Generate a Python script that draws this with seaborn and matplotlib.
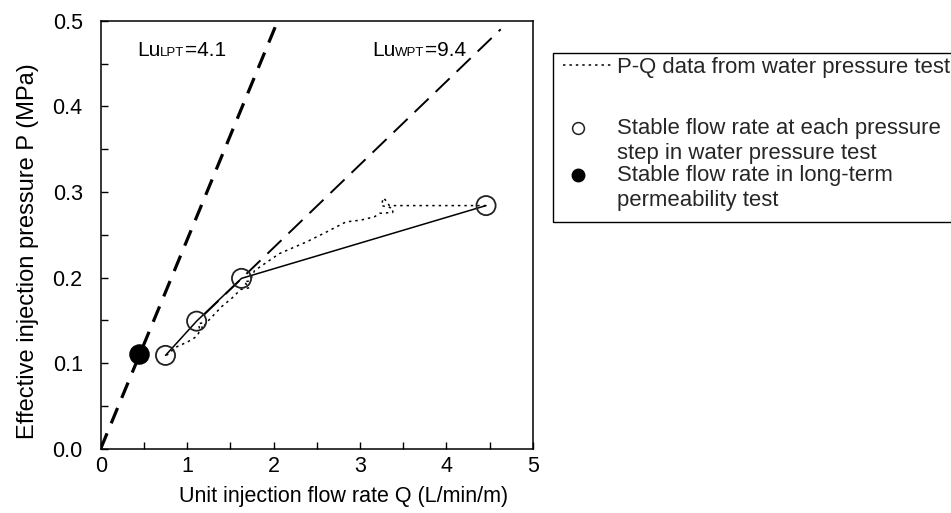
import matplotlib
matplotlib.use("Agg")
import matplotlib.pyplot as plt
import numpy as np
import pandas as pd
import seaborn as sns
from matplotlib.lines import Line2D
from matplotlib.patches import Rectangle
from matplotlib.legend_handler import HandlerLine2D
from matplotlib.offsetbox import TextArea, HPacker, AnnotationBbox
from matplotlib.ticker import MultipleLocator

# ---------------- data ----------------
# P-Q trace from water pressure test (dotted)
pq_q = [0.76, 0.88, 1.01, 1.11, 1.15, 1.13, 1.18, 1.17, 1.25, 1.40, 1.52, 1.62,
        1.72, 1.66, 1.73, 1.78, 2.07, 2.38, 2.61, 2.84, 3.01, 3.17, 3.23, 3.38,
        3.38, 3.25, 3.27, 3.31, 3.34, 4.46]
pq_p = [0.109, 0.119, 0.125, 0.131, 0.138, 0.146, 0.147, 0.140, 0.150, 0.166, 0.176, 0.186,
        0.188, 0.195, 0.196, 0.208, 0.228, 0.2415, 0.253, 0.265, 0.267, 0.271, 0.275, 0.276,
        0.281, 0.284, 0.293, 0.289, 0.284, 0.284]
# stable flow rate at each pressure step (open circles)
step_q = [0.75, 1.11, 1.63, 4.46]
step_p = [0.109, 0.149, 0.199, 0.284]
# long-term permeability test (filled circle)
lpt_pt_q = [0.44]
lpt_pt_p = [0.111]
# Lugeon lines
lpt_line_q = [0.0, 2.05]
lpt_line_p = [0.0, 0.5]
wpt_line_q = [1.20, 4.63]
wpt_line_p = [0.157, 0.490]

xticks = [0, 1, 2, 3, 4, 5]
yticks = [0.0, 0.1, 0.2, 0.3, 0.4, 0.5]
ytick_labels = ["0.0", "0.1", "0.2", "0.3", "0.4", "0.5"]

# ---------------- style ----------------
sns.set_theme(style="ticks")
plt.rcParams["font.family"] = ["Liberation Sans", "DejaVu Sans"]
FS = 15.5
LFS = 15.9

W, H = 951, 513
fig = plt.figure(figsize=(W / 100, H / 100), dpi=100)
ax = fig.add_axes([100.7 / W, 1 - 448.7 / H, (532.7 - 100.7) / W, (448.7 - 20.7) / H])

# Lugeon lines
sns.lineplot(x=lpt_line_q, y=lpt_line_p, ax=ax, color="black", lw=2.3,
             estimator=None, sort=False)
ax.lines[-1].set_dashes([5.2, 3.4])
sns.lineplot(x=wpt_line_q, y=wpt_line_p, ax=ax, color="black", lw=1.4,
             estimator=None, sort=False)
ax.lines[-1].set_dashes([10, 5])

# P-Q trace
sns.lineplot(x=pq_q, y=pq_p, ax=ax, color="black", lw=1.1,
             estimator=None, sort=False)
ax.lines[-1].set_dashes([1.6, 2.6])

# solid line connecting stable steps
sns.lineplot(x=step_q, y=step_p, ax=ax, color="black", lw=1.1,
             estimator=None, sort=False)

# circles
sns.scatterplot(x=step_q, y=step_p, ax=ax, s=190, facecolors="none",
                edgecolor="#222222", linewidth=1.3, zorder=5)
sns.scatterplot(x=lpt_pt_q, y=lpt_pt_p, ax=ax, s=190, color="black",
                edgecolor="black", linewidth=1, zorder=5)

ax.set_xlim(0, 5)
ax.set_ylim(0, 0.5)
ax.set_xticks(xticks)
ax.set_yticks(yticks)
ax.set_yticklabels(ytick_labels)
ax.xaxis.set_minor_locator(MultipleLocator(0.5))
ax.yaxis.set_minor_locator(MultipleLocator(0.05))
ax.tick_params(which="both", direction="in", length=5, width=1, color="black",
               top=False, right=False)
ax.tick_params(axis="y", which="major", pad=13, labelsize=FS, colors="black")
ax.tick_params(axis="x", which="major", pad=5, labelsize=FS, colors="black")
for sp in ax.spines.values():
    sp.set_visible(True)
    sp.set_color("black")
    sp.set_linewidth(1.1)

ax.set_xlabel("Unit injection flow rate Q (L/min/m)", fontsize=FS, color="black")
ax.xaxis.set_label_coords(0.563, -0.087)
ax.set_ylabel("Effective injection pressure P (MPa)", fontsize=17, color="black")
ax.yaxis.set_label_coords(-0.143, 0.461)


def lu_label(x, y, sub, val):
    parts = [TextArea("Lu", textprops=dict(fontsize=FS - 0.5, color="black")),
             TextArea(sub, textprops=dict(fontsize=9.5, color="black")),
             TextArea("=" + val, textprops=dict(fontsize=FS - 0.5, color="black"))]
    box = HPacker(children=parts, align="baseline", pad=0, sep=0)
    ab = AnnotationBbox(box, (x, y), xycoords="data", frameon=False,
                        box_alignment=(0, 0.5), pad=0)
    ax.add_artist(ab)


lu_label(0.42, 0.465, "LPT", "4.1")
lu_label(3.14, 0.465, "WPT", "9.4")


class FirstLineMarker(HandlerLine2D):
    def __init__(self, xoff, yoff):
        super().__init__(numpoints=1)
        self.xoff, self.yoff = xoff, yoff

    def create_artists(self, legend, orig_handle, xdescent, ydescent, width,
                       height, fontsize, trans):
        arts = super().create_artists(legend, orig_handle, xdescent, ydescent,
                                      width, height, fontsize, trans)
        for a in arts:
            xd = np.asarray(a.get_xdata(), float)
            yd = np.asarray(a.get_ydata(), float)
            a.set_xdata(np.full_like(xd, self.xoff - xdescent))
            a.set_ydata(yd + self.yoff)
        return arts


# legend
h_pq = Line2D([], [], color="black", lw=1.1, dashes=[1.6, 2.6])
h_blank = Line2D([], [], color="none")
h_open = Line2D([], [], ls="none", marker="o", markersize=8.5, markerfacecolor="white",
                markeredgecolor="#222222", markeredgewidth=1.1)
h_fill = Line2D([], [], ls="none", marker="o", markersize=9, markerfacecolor="black",
                markeredgecolor="black")
handles = [h_pq, h_blank, h_open, h_fill]
labels = ["P-Q data from water pressure test", " ",
          "Stable flow rate at each pressure\nstep in water pressure test",
          "Stable flow rate in long-term\npermeability test"]
mk = FirstLineMarker(10.8, 9.5)
leg = fig.legend(handles, labels, loc="upper left",
                 bbox_to_anchor=(563 / W, 1 - 57 / H), borderaxespad=0,
                 fontsize=LFS, frameon=False, handlelength=2.32,
                 handletextpad=0.13, borderpad=0, labelspacing=0.05,
                 handler_map={h_open: mk, h_fill: mk})
texts = leg.get_texts()
texts[1].set_fontsize(29)
texts[2].set_linespacing(1.25)
texts[3].set_linespacing(1.25)

fig.patches.append(Rectangle((553 / W, 1 - 222 / H), (965 - 553) / W, (222 - 53) / H,
                             transform=fig.transFigure, fill=False,
                             edgecolor="black", linewidth=1.0, zorder=3))

fig.savefig("out.png", dpi=100)
